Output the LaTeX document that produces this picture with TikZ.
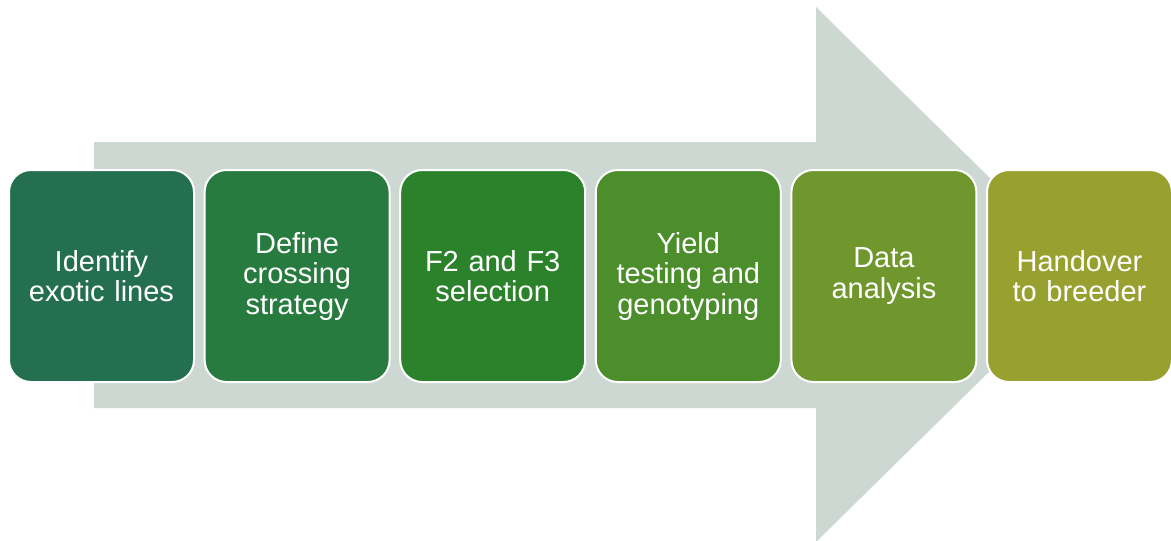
\documentclass[tikz,border=0pt]{standalone}
\usepackage{fontspec}
\setmainfont{Liberation Sans}
\definecolor{arrowgray}{HTML}{CED8D3}
\definecolor{stepA}{HTML}{246F50}
\definecolor{stepB}{HTML}{277B3F}
\definecolor{stepC}{HTML}{2B822B}
\definecolor{stepD}{HTML}{4C8D2C}
\definecolor{stepE}{HTML}{70972E}
\definecolor{stepF}{HTML}{98A130}
\begin{document}
\begin{tikzpicture}[x=1pt,y=-1pt,
  stepbox/.style={draw=white, line width=2pt, rounded corners=22pt,
    minimum width=185pt, minimum height=212pt, text width=178pt,
    align=center, text=white, inner sep=0pt,
    font=\fontsize{29}{30.5}\selectfont, anchor=north west}]
\useasboundingbox (0,0) rectangle (1171,541);
% broad background arrow
\fill[arrowgray] (94,142) -- (816,142) -- (816,7) -- (1088,274.5)
  -- (816,542) -- (816,408) -- (94,408) -- cycle;
% process steps
\node[stepbox, fill=stepA] (s1) at (8,169)    {Identify\\exotic lines};
\node[stepbox, fill=stepB] (s2) at (203.6,169) {Define\\crossing\\strategy};
\node[stepbox, fill=stepC] (s3) at (399.2,169) {F2 and F3\\selection};
\node[stepbox, fill=stepD] (s4) at (594.8,169) {Yield\\testing and\\genotyping};
\node[stepbox, fill=stepE] (s5) at (790.4,169) {Data\\analysis};
\node[stepbox, fill=stepF] (s6) at (986,169)   {Handover\\to breeder};
\end{tikzpicture}
\end{document}
